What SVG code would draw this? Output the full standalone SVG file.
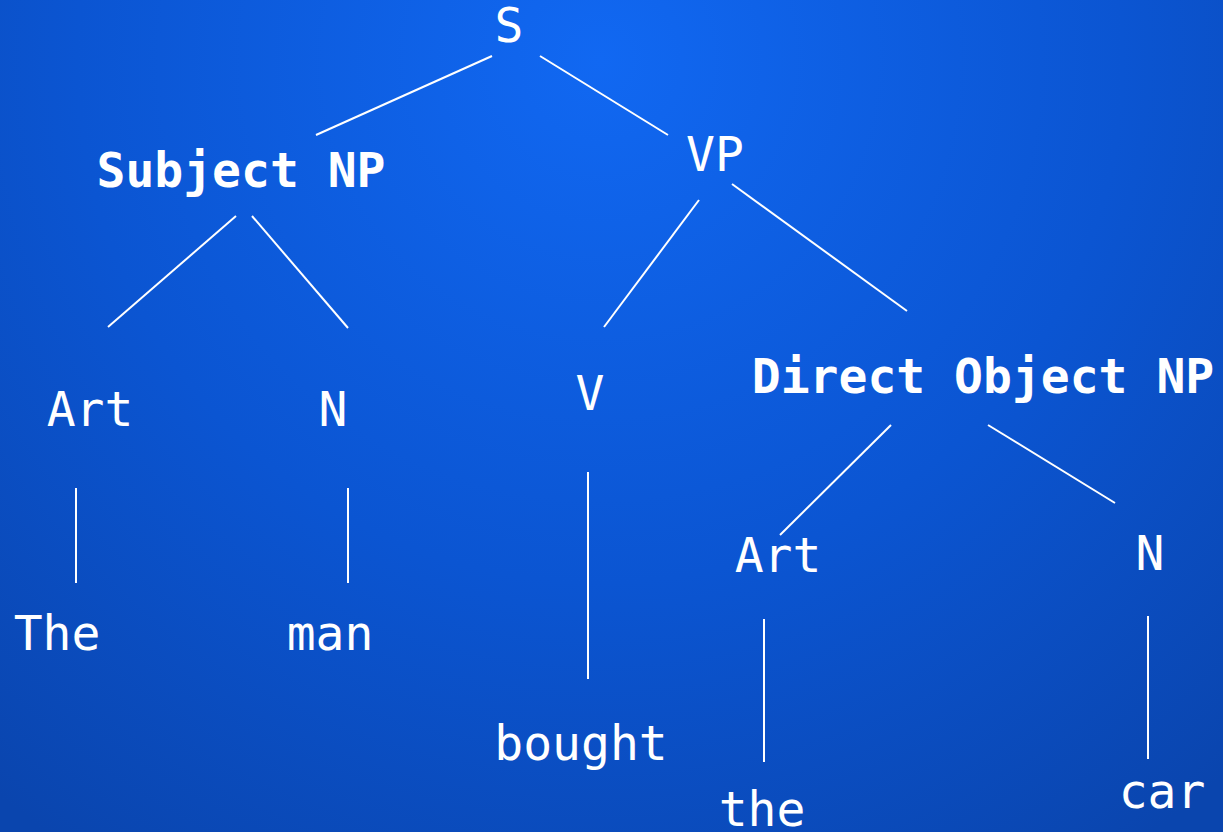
<svg xmlns="http://www.w3.org/2000/svg" width="1223" height="832" viewBox="0 0 1223 832">
  <defs>
    <radialGradient id="bg" cx="600" cy="60" r="950" gradientUnits="userSpaceOnUse">
      <stop offset="0" stop-color="#1168f2"/>
      <stop offset="0.55" stop-color="#0b55d2"/>
      <stop offset="1" stop-color="#0a45ae"/>
    </radialGradient>
    <style>
      text { font-family: "DejaVu Sans Mono", "Liberation Mono", monospace; fill: #ffffff; font-size: 48px; text-anchor: middle; }
      .bold { font-weight: bold; }
      .edge { stroke: #ffffff; stroke-width: 2; fill: none; }
    </style>
  </defs>
  <rect width="1223" height="832" fill="url(#bg)"/>

  <!-- tree edges -->
  <g id="connectors">
    <line class="edge" x1="492" y1="56" x2="316" y2="135"/>
    <line class="edge" x1="540" y1="56" x2="668" y2="135"/>
    <line class="edge" x1="236" y1="216" x2="108" y2="327"/>
    <line class="edge" x1="252" y1="216" x2="348" y2="328"/>
    <line class="edge" x1="699" y1="200" x2="604" y2="327"/>
    <line class="edge" x1="732" y1="184" x2="907" y2="311"/>
    <line class="edge" x1="76" y1="488" x2="76" y2="583"/>
    <line class="edge" x1="348" y1="488" x2="348" y2="583"/>
    <line class="edge" x1="588" y1="472" x2="588" y2="679"/>
    <line class="edge" x1="891" y1="425" x2="780" y2="535"/>
    <line class="edge" x1="988" y1="425" x2="1115" y2="503"/>
    <line class="edge" x1="764" y1="619" x2="764" y2="762"/>
    <line class="edge" x1="1148" y1="616" x2="1148" y2="759"/>
  </g>

  <!-- phrase and word nodes -->
  <g id="node-s"><text x="509" y="42">S</text></g>
  <g id="node-subject-np"><text class="bold" x="241" y="187">Subject NP</text></g>
  <g id="node-vp"><text x="715" y="171">VP</text></g>
  <g id="node-art-1"><text x="90" y="426">Art</text></g>
  <g id="node-n-1"><text x="333" y="426">N</text></g>
  <g id="node-v"><text x="590" y="410">V</text></g>
  <g id="node-direct-object-np"><text class="bold" x="983" y="393">Direct Object NP</text></g>
  <g id="node-art-2"><text x="778" y="572">Art</text></g>
  <g id="node-n-2"><text x="1150" y="570">N</text></g>
  <g id="word-the-1"><text x="57" y="650">The</text></g>
  <g id="word-man"><text x="330" y="650">man</text></g>
  <g id="word-bought"><text x="581" y="760">bought</text></g>
  <g id="word-the-2"><text x="762" y="826">the</text></g>
  <g id="word-car"><text x="1162" y="808">car</text></g>
</svg>
